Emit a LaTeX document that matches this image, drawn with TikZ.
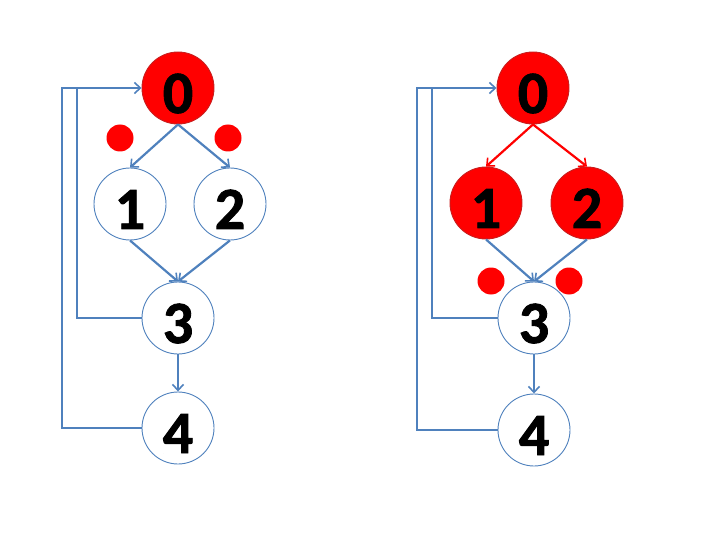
\documentclass[tikz,border=0pt]{standalone}
\usepackage{fontspec}
\setmainfont{Carlito}[BoldFeatures={FakeBold=1.5}]
\usetikzlibrary{arrows.meta}
\definecolor{edgeblue}{RGB}{79,129,189}
\definecolor{hotred}{RGB}{255,0,0}
\definecolor{rimred}{RGB}{200,30,30}
\tikzset{
  vertex/.style={circle,draw=edgeblue,line width=0.9pt,fill=white,minimum size=72pt,
    inner sep=0pt,text height=50pt,text depth=0pt,font=\fontsize{60}{60}\selectfont\bfseries},
  lit/.style={fill=hotred,draw=rimred},
  token/.style={circle,fill=hotred,minimum size=27pt,inner sep=0pt},
  wire/.style={draw=edgeblue,line width=2.2pt},
  flow/.style={wire,-{Straight Barb[length=6pt,width=11pt,line width=1.6pt]}},
  hot/.style={flow,draw=hotred},
}
\begin{document}
\begin{tikzpicture}[x=1pt,y=-1pt]
\useasboundingbox (0,0) rectangle (720,540);

% left graph
\node[vertex,lit] (a0) at (178,88) {0};
\node[vertex] (a1) at (130,204) {1};
\node[vertex] (a2) at (230,204) {2};
\node[vertex] (a3) at (178,318) {3};
\node[vertex] (a4) at (178,428) {4};
\node[token] (at1) at (120,138) {};
\node[token] (at2) at (228,138) {};
\coordinate (aout) at (62,88);
\coordinate (ain) at (77,88);

\draw[flow] (a0.south) -- (a1.north);
\draw[flow] (a0.south) -- (a2.north);
\draw[flow] (a1.south) -- (a3.north);
\draw[flow] (a2.south) -- (a3.north);
\draw[flow] (a3.south) -- (a4.north);
\draw[wire] (a3.west) -| (ain);
\draw[flow] (a4.west) -| (aout) -- (a0.west);

% right graph
\node[vertex,lit] (b0) at (533,88) {0};
\node[vertex,lit] (b1) at (486,203) {1};
\node[vertex,lit] (b2) at (587,203) {2};
\node[vertex] (b3) at (534,318) {3};
\node[vertex] (b4) at (534,430) {4};
\node[token] (bt1) at (491,281) {};
\node[token] (bt2) at (569,281) {};
\coordinate (bout) at (417,88);
\coordinate (bin) at (432,88);

\draw[hot] (b0.south) -- (b1.north);
\draw[hot] (b0.south) -- (b2.north);
\draw[flow] (b1.south) -- (b3.north);
\draw[flow] (b2.south) -- (b3.north);
\draw[flow] (b3.south) -- (b4.north);
\draw[wire] (b3.west) -| (bin);
\draw[flow] (b4.west) -| (bout) -- (b0.west);
\end{tikzpicture}
\end{document}
